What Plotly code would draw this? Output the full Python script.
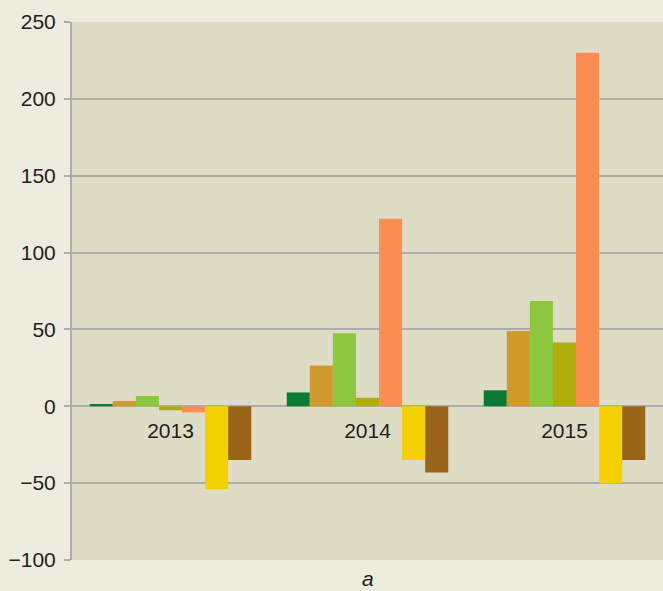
import plotly.graph_objects as go

categories = ["2013", "2014", "2015"]
s1 = [1.5, 9, 10.4]
s2 = [3.5, 26.5, 49]
s3 = [6.7, 47.5, 68.5]
s4 = [-2.6, 5.5, 41.5]
s5 = [-4, 122, 230]
s6 = [-54, -35, -50]
s7 = [-35, -43, -35]
series = [s1, s2, s3, s4, s5, s6, s7]
colors = ["#0A7A35", "#D09A2C", "#8DC63F", "#AFAD0E", "#F98D52", "#F5D000", "#9A6419"]
yticks = [-100, -50, 0, 50, 100, 150, 200, 250]
ytext = ["\u2212100", "\u221250", "0", "50", "100", "150", "200", "250"]

fig = go.Figure()
for vals, c in zip(series, colors):
    fig.add_trace(go.Bar(x=categories, y=vals, marker=dict(color=c, line=dict(width=0)), showlegend=False))

ymin, ymax = -100, 250
fig.update_layout(
    width=663, height=591,
    margin=dict(l=72, r=0, t=22, b=31),
    paper_bgcolor="#EEEBDF", plot_bgcolor="#DFDCC5",
    barmode="group", bargap=0.18, bargroupgap=0,
    font=dict(family="Liberation Sans, Arial, sans-serif", size=21, color="#231F20"),
    xaxis=dict(anchor="free", position=(0 - ymin) / (ymax - ymin), showline=False,
               ticks="", showgrid=False, zeroline=False, tickfont=dict(size=21),
               ticklabelstandoff=10),
    yaxis=dict(range=[ymin, ymax], tickvals=yticks, ticktext=ytext, showgrid=True,
               gridcolor="#ADADAD", gridwidth=2, zeroline=True, zerolinecolor="#ADADAD",
               zerolinewidth=2, showline=True, linecolor="#ADADAD", linewidth=2,
               ticks="outside", ticklen=6, tickcolor="#ADADAD", tickwidth=2,
               ticklabelstandoff=4),
    annotations=[dict(text="<i>a</i>", xref="paper", yref="paper", x=0.5, y=0,
                      yshift=-5, yanchor="top", showarrow=False, font=dict(size=21))],
)
fig.write_html("out.html", config={"displayModeBar": False},
               post_script="document.body.style.margin='0';document.body.style.overflow='hidden';")
